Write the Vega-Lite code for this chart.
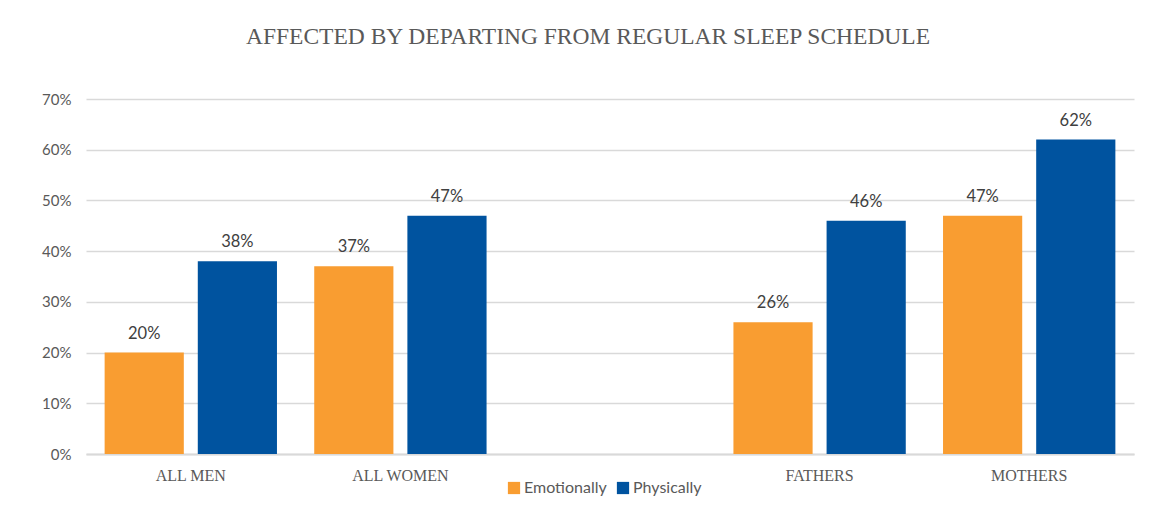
{
  "$schema": "https://vega.github.io/schema/vega-lite/v6.json",
  "width": 1048,
  "height": 355,
  "autosize": {"type": "none"},
  "padding": {"left": 86, "top": 99, "right": 37, "bottom": 71},
  "background": "white",
  "title": {
    "text": "AFFECTED BY DEPARTING FROM REGULAR SLEEP SCHEDULE",
    "font": "Liberation Serif",
    "fontSize": 23.5,
    "fontWeight": "normal",
    "color": "#595959",
    "anchor": "middle",
    "dx": -22,
    "offset": 44
  },
  "data": {
    "values": [
      {"group": "All Men", "type": "Emotionally", "value": 0.20},
      {"group": "All Men", "type": "Physically", "value": 0.38},
      {"group": "All Women", "type": "Emotionally", "value": 0.37},
      {"group": "All Women", "type": "Physically", "value": 0.47},
      {"group": "Fathers", "type": "Emotionally", "value": 0.26},
      {"group": "Fathers", "type": "Physically", "value": 0.46},
      {"group": "Mothers", "type": "Emotionally", "value": 0.47},
      {"group": "Mothers", "type": "Physically", "value": 0.62}
    ]
  },
  "encoding": {
    "x": {
      "field": "group",
      "type": "nominal",
      "sort": null,
      "scale": {"domain": ["All Men", "All Women", " ", "Fathers", "Mothers"], "paddingInner": 0, "paddingOuter": 0},
      "axis": {
        "title": null,
        "labelAngle": 0,
        "labelExpr": "upper(datum.label)",
        "labelFont": "Liberation Serif",
        "labelFontSize": 16,
        "labelColor": "#595959",
        "labelPadding": 13,
        "ticks": false,
        "domainColor": "#d9d9d9",
        "domainWidth": 2,
        "grid": false
      }
    },
    "xOffset": {
      "field": "type",
      "type": "nominal",
      "scale": {"paddingInner": 0.15, "paddingOuter": 0.2}
    },
    "y": {
      "field": "value",
      "type": "quantitative",
      "scale": {"domain": [0, 0.7], "nice": false},
      "axis": {
        "title": null,
        "format": ".0%",
        "values": [0, 0.1, 0.2, 0.3, 0.4, 0.5, 0.6, 0.7],
        "labelFont": "Lato",
        "labelFontSize": 15,
        "labelColor": "#595959",
        "labelPadding": 15,
        "ticks": false,
        "domain": false,
        "gridColor": "#d9d9d9",
        "gridWidth": 1.5
      }
    }
  },
  "layer": [
    {
      "mark": {"type": "bar"},
      "encoding": {
        "color": {
          "field": "type",
          "type": "nominal",
          "scale": {"domain": ["Emotionally", "Physically"], "range": ["#F99D31", "#00539F"]},
          "legend": {
            "title": null,
            "orient": "none",
            "direction": "horizontal",
            "legendX": 420,
            "legendY": 381,
            "symbolType": "square",
            "symbolSize": 150,
            "labelFont": "Lato",
            "labelFontSize": 16,
            "labelColor": "#595959",
            "labelOffset": 2,
            "columnPadding": 8
          }
        }
      }
    },
    {
      "mark": {"type": "text", "baseline": "bottom", "dy": -11, "font": "Lato", "fontSize": 16.5, "color": "#404040"},
      "encoding": {
        "text": {"field": "value", "type": "quantitative", "format": ".0%"}
      }
    }
  ],
  "config": {"view": {"stroke": null}}
}
